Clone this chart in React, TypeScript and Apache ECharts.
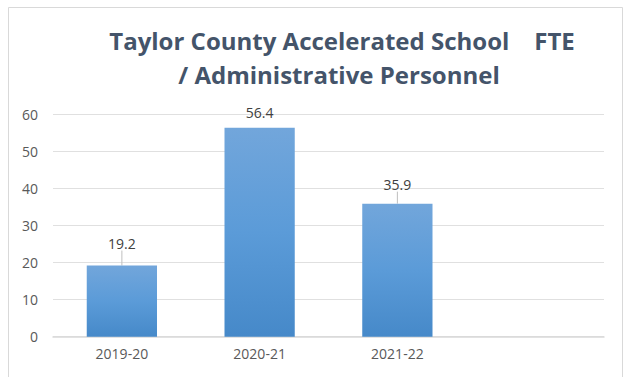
import React, { useEffect, useRef } from "react";
import * as echarts from "echarts";

const categories = ["2019-20", "2020-21", "2021-22", ""];
const fteValues: (number | null)[] = [19.2, 56.4, 35.9, null];
const labelLift = [-11, -4, -8, 0];
const showLeader = [true, false, true, false];
const titleLines = ["Taylor County Accelerated School    FTE", "/ Administrative Personnel"];

export default function App() {
  const ref = useRef<HTMLDivElement>(null);
  useEffect(() => {
    if (!ref.current) return;
    const chart = echarts.init(ref.current, undefined, { renderer: "svg" });
    const font = "Open Sans, Noto Sans, sans-serif";
    chart.setOption({
      animation: false,
      backgroundColor: "#ffffff",
      graphic: [
        {
          type: "rect",
          shape: { x: 8.5, y: 7.5, width: 614, height: 380 },
          style: { fill: "none", stroke: "#d9d9d9", lineWidth: 1 },
          silent: true,
        },
        {
          type: "text",
          x: 342,
          y: 40,
          style: {
            text: titleLines[0],
            textAlign: "center",
            textVerticalAlign: "middle",
            fill: "#44546a",
            font: `bold 24px ${font}`,
          },
        },
        {
          type: "text",
          x: 339,
          y: 74,
          style: {
            text: titleLines[1],
            textAlign: "center",
            textVerticalAlign: "middle",
            fill: "#44546a",
            font: `bold 24px ${font}`,
          },
        },
      ],
      grid: { left: 53, right: 21, top: 114.3, bottom: 40.3 },
      xAxis: {
        type: "category",
        data: categories,
        axisTick: { show: false },
        axisLine: { lineStyle: { color: "#d9d9d9", width: 1.5 } },
        axisLabel: { color: "#595959", fontSize: 14, fontFamily: font, margin: 10 },
      },
      yAxis: {
        type: "value",
        min: 0,
        max: 60,
        interval: 10,
        axisLine: { show: false },
        axisTick: { show: false },
        splitLine: { lineStyle: { color: "#e0e0e0", width: 1 } },
        axisLabel: { color: "#595959", fontSize: 14, fontFamily: font, margin: 15 },
      },
      series: [
        {
          type: "bar",
          data: fteValues.map((v, i) => ({
            value: v,
            labelLine: { show: showLeader[i] },
          })),
          barWidth: "51%",
          itemStyle: {
            color: new echarts.graphic.LinearGradient(0, 0, 0, 1, [
              { offset: 0, color: "#72a6db" },
              { offset: 0.5, color: "#5b9bd8" },
              { offset: 1, color: "#4689c9" },
            ]),
          },
          label: {
            show: true,
            position: "top",
            distance: 4,
            color: "#404040",
            fontSize: 14,
            fontFamily: font,
          },
          labelLayout: (params: any) => ({ dy: labelLift[params.dataIndex] }),
          labelLine: { show: true, lineStyle: { color: "#bfbfbf", width: 1 } },
        },
      ],
    });
    return () => chart.dispose();
  }, []);
  return (
    <div
      ref={ref}
      style={{ position: "fixed", left: 0, top: 0, width: 625, height: 377 }}
    />
  );
}
